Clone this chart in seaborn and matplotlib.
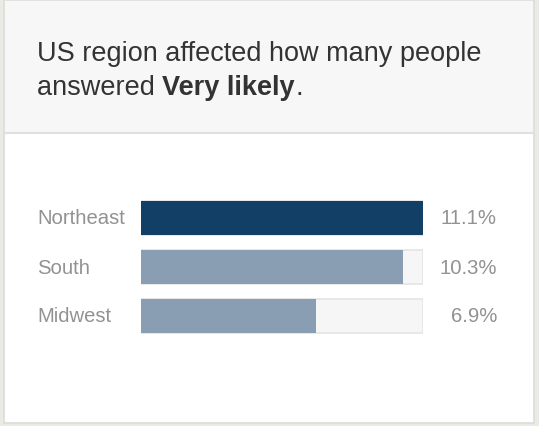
import matplotlib
matplotlib.use("Agg")
import matplotlib.pyplot as plt
import matplotlib.transforms as mtransforms
from matplotlib.patches import Rectangle
import seaborn as sns
import pandas as pd

# Survey shares for the "Very likely" answer by US region
regions = ["Northeast", "South", "Midwest"]
shares = [11.1, 10.3, 6.9]
value_labels = ["11.1%", "10.3%", "6.9%"]
bar_colors = ["#123f66", "#899eb2", "#899eb2"]

title_line1 = "US region affected how many people"
title_prefix = "answered "
title_bold = "Very likely"
title_suffix = "."

W, H = 539, 427
sns.set_theme(style="white")
plt.rcParams["font.family"] = ["Liberation Sans", "DejaVu Sans"]

fig = plt.figure(figsize=(W / 100, H / 100), dpi=100)
fig.patch.set_facecolor("#ebebe5")

# Background card drawn in pixel coordinates
bg = fig.add_axes([0, 0, 1, 1])
bg.set_xlim(0, W)
bg.set_ylim(H, 0)
bg.axis("off")
bg.add_patch(Rectangle((3.5, 0.5), 530.5, 423, facecolor="white",
                       edgecolor="#dcdcd8", lw=1.2))
bg.add_patch(Rectangle((4.5, 1.5), 528.5, 132, facecolor="#f7f7f7",
                       edgecolor="none"))
bg.plot([4.5, 533], [133.5, 133.5], color="#e0e0e0", lw=1.5)

# Title text
txt_color = "#333333"
bg.text(37, 61, title_line1, fontsize=19.5, color=txt_color, va="baseline")
t1 = bg.text(37, 95, title_prefix, fontsize=19.5, color=txt_color,
             va="baseline")
fig.canvas.draw()
r = fig.canvas.get_renderer()
x = t1.get_window_extent(r).x1
t2 = bg.text(x, H - 95, title_bold, fontsize=19.5, color=txt_color,
             fontweight="bold", va="baseline", transform=None)
x2 = t2.get_window_extent(r).x1
bg.text(x2, H - 95, title_suffix, fontsize=19.5, color=txt_color,
        va="baseline", transform=None)

# Bars
df = pd.DataFrame({"region": regions, "share": shares})
track = pd.DataFrame({"region": regions, "share": [max(shares)] * len(regions)})

ax = fig.add_axes([141 / W, 1 - 341.5 / H, 282 / W, 147 / H])
sns.barplot(data=track, x="share", y="region", color="#f6f6f6",
            edgecolor="#e4e4e4", linewidth=1.2, width=0.694, ax=ax,
            saturation=1)
sns.barplot(data=df, x="share", y="region", hue="region",
            palette=bar_colors, width=0.694, ax=ax, legend=False,
            saturation=1, edgecolor="none")
ax.set_xlim(0, max(shares))
ax.set_ylim(2.5, -0.5)
ax.axis("off")

label_tr = mtransforms.blended_transform_factory(fig.transFigure, ax.transData)
for i, (name, lab) in enumerate(zip(regions, value_labels)):
    ax.text(37 / W, i, name, transform=label_tr, ha="left", va="center",
            fontsize=14.6, color="#929292")
    ax.text(497 / W, i, lab, transform=label_tr, ha="right", va="center",
            fontsize=14.6, color="#929292")

fig.savefig("out.png", dpi=100, facecolor=fig.get_facecolor())
